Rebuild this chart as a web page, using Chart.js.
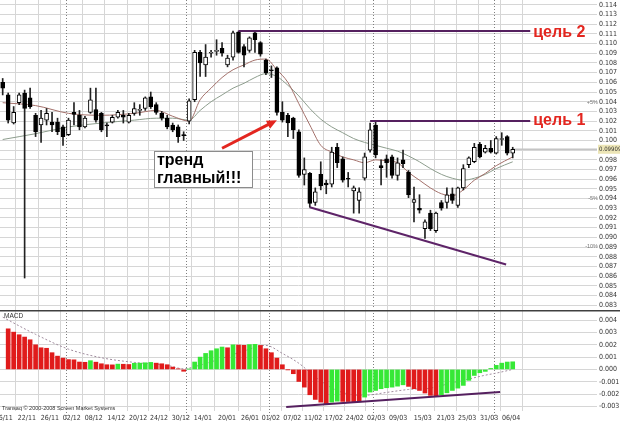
<!DOCTYPE html>
<html>
<head>
<meta charset="utf-8">
<script src="https://cdn.jsdelivr.net/npm/chart.js@4.4.1/dist/chart.umd.min.js"></script>
<style>
  html, body { margin: 0; padding: 0; background: #fff; }
  #wrap { position: relative; width: 620px; height: 421px; overflow: hidden; }
  canvas { position: absolute; left: 0; }
</style>
</head>
<body>
<div id="wrap">
  <canvas id="price" width="620" height="310" style="top:0"></canvas>
  <canvas id="macd" width="620" height="111" style="top:310px"></canvas>
</div>
<script>
// daily candles, 16/11 .. 06/04
const open = [0.1060, 0.1047, 0.1018, 0.1039, 0.1049, 0.1044, 0.1026, 0.1016, 0.1021, 0.1019,
  0.1019, 0.1014, 0.1006, 0.1029, 0.1026, 0.1014, 0.1029, 0.1032, 0.1028, 0.1016,
  0.1019, 0.1024, 0.1026, 0.1019, 0.1028, 0.1031, 0.1033, 0.1045, 0.1037, 0.1028,
  0.1023, 0.1016, 0.1014, 0.1006, 0.1020, 0.1042, 0.1091, 0.1078, 0.1090, 0.1092,
  0.1095, 0.1078, 0.1086, 0.1112, 0.1097, 0.1093, 0.1111, 0.1101, 0.1083, 0.1073,
  0.1075, 0.1029, 0.1026, 0.1023, 0.1009, 0.0965, 0.0966, 0.0936, 0.0965, 0.0956,
  0.0955, 0.0993, 0.0981, 0.0961, 0.0948, 0.0938, 0.0961, 0.0990, 0.1016, 0.0974,
  0.0981, 0.0983, 0.0964, 0.0980, 0.0967, 0.0936, 0.0930, 0.0909, 0.0925, 0.0907,
  0.0936, 0.0936, 0.0945, 0.0933, 0.0951, 0.0975, 0.0978, 0.0996, 0.0988, 0.0992,
  0.0987, 0.1001, 0.1004, 0.0987];
const high = [0.1064, 0.1049, 0.1035, 0.1049, 0.1052, 0.1054, 0.1028, 0.1031, 0.1033, 0.1029,
  0.1023, 0.1016, 0.1023, 0.1039, 0.1031, 0.1025, 0.1054, 0.1054, 0.1029, 0.1018,
  0.1026, 0.1031, 0.1031, 0.1028, 0.1039, 0.1037, 0.1045, 0.1050, 0.1039, 0.1030,
  0.1026, 0.1018, 0.1016, 0.1009, 0.1043, 0.1093, 0.1093, 0.1099, 0.1093, 0.1104,
  0.1101, 0.1088, 0.1113, 0.1113, 0.1099, 0.1107, 0.1112, 0.1102, 0.1084, 0.1077,
  0.1076, 0.1040, 0.1028, 0.1024, 0.1011, 0.0982, 0.0967, 0.0951, 0.0978, 0.0959,
  0.0993, 0.0997, 0.0983, 0.0967, 0.0953, 0.0951, 0.0987, 0.1018, 0.1020, 0.0980,
  0.0985, 0.0985, 0.0982, 0.0990, 0.0969, 0.0952, 0.0944, 0.0918, 0.0928, 0.0926,
  0.0938, 0.0951, 0.0951, 0.0952, 0.0975, 0.0983, 0.0997, 0.0998, 0.0995, 0.1000,
  0.1004, 0.1008, 0.1005, 0.0993];
const low = [0.1047, 0.1018, 0.1017, 0.1037, 0.0858, 0.1033, 0.1004, 0.0998, 0.1016, 0.1009,
  0.1006, 0.0995, 0.1005, 0.1016, 0.1011, 0.1013, 0.1028, 0.1019, 0.1009, 0.1004,
  0.1018, 0.1023, 0.1018, 0.1018, 0.1026, 0.1026, 0.1031, 0.1033, 0.1027, 0.1021,
  0.1012, 0.1009, 0.0998, 0.1000, 0.1017, 0.1040, 0.1066, 0.1066, 0.1086, 0.1088,
  0.1087, 0.1076, 0.1083, 0.1090, 0.1076, 0.1091, 0.1091, 0.1087, 0.1068, 0.1065,
  0.1026, 0.1019, 0.1004, 0.1002, 0.0962, 0.0954, 0.0931, 0.0933, 0.0949, 0.0945,
  0.0952, 0.0972, 0.0957, 0.0952, 0.0925, 0.0925, 0.0959, 0.0988, 0.0982, 0.0954,
  0.0962, 0.0961, 0.0959, 0.0972, 0.0941, 0.0916, 0.0925, 0.0899, 0.0907, 0.0905,
  0.0928, 0.0930, 0.0935, 0.0931, 0.0949, 0.0972, 0.0977, 0.0982, 0.0987, 0.0987,
  0.0986, 0.0995, 0.0985, 0.0982];
const close = [0.1054, 0.1021, 0.1029, 0.1047, 0.1033, 0.1035, 0.1009, 0.1023, 0.1028, 0.1016,
  0.1009, 0.1004, 0.1021, 0.1027, 0.1014, 0.1023, 0.1042, 0.1021, 0.1011, 0.1015,
  0.1024, 0.1029, 0.1024, 0.1026, 0.1033, 0.1032, 0.1044, 0.1035, 0.1029, 0.1023,
  0.1014, 0.1011, 0.1004, 0.1005, 0.1041, 0.1091, 0.1080, 0.1086, 0.1091, 0.1093,
  0.1090, 0.1085, 0.1111, 0.1091, 0.1088, 0.1106, 0.1104, 0.1089, 0.1070, 0.1072,
  0.1029, 0.1021, 0.1018, 0.1011, 0.0964, 0.0970, 0.0935, 0.0947, 0.0953, 0.0954,
  0.0988, 0.0977, 0.0959, 0.0960, 0.0951, 0.0947, 0.0983, 0.1011, 0.0985, 0.0972,
  0.0977, 0.0964, 0.0977, 0.0976, 0.0944, 0.0939, 0.0928, 0.0916, 0.0909, 0.0925,
  0.0930, 0.0944, 0.0938, 0.0951, 0.0971, 0.0982, 0.0993, 0.0983, 0.0992, 0.0988,
  0.1002, 0.1002, 0.0987, 0.09909];

// moving averages, read at these candle numbers
const maIdx = [0, 6, 12, 18, 24, 28, 31, 34, 36, 38, 40, 42, 44, 46, 48, 50, 52, 54, 56, 58,
  60, 62, 64, 66, 68, 70, 72, 74, 76, 78, 80, 82, 84, 86, 88, 90, 93];
const maFast = [0.1039, 0.1036, 0.1028, 0.1026, 0.1028, 0.1031, 0.1025, 0.1020, 0.1042, 0.1054,
  0.1065, 0.1073, 0.1078, 0.1083, 0.1084, 0.1073, 0.1060, 0.1038, 0.1016, 0.0995,
  0.0988, 0.0983, 0.0980, 0.0977, 0.0980, 0.0979, 0.0977, 0.0967, 0.0959, 0.0951,
  0.0945, 0.0943, 0.0949, 0.0959, 0.0966, 0.0974, 0.0983];
const maSlow = [0.1001, 0.1007, 0.1014, 0.1018, 0.1021, 0.1023, 0.1023, 0.1021, 0.1031, 0.1040,
  0.1047, 0.1054, 0.1059, 0.1065, 0.1069, 0.1066, 0.1057, 0.1046, 0.1033, 0.1022,
  0.1014, 0.1008, 0.1002, 0.0998, 0.0995, 0.0992, 0.0989, 0.0984, 0.0978, 0.0971,
  0.0965, 0.0961, 0.0959, 0.0961, 0.0965, 0.0971, 0.0978];

// MACD histogram per candle and its signal line
const macdHist = [null, 0.00330, 0.00303, 0.00282, 0.00263, 0.00241, 0.00200, 0.00176, 0.00172, 0.00136,
  0.00108, 0.00092, 0.00080, 0.00078, 0.00060, 0.00058, 0.00071, 0.00059, 0.00046, 0.00038,
  0.00037, 0.00043, 0.00042, 0.00040, 0.00050, 0.00051, 0.00054, 0.00057, 0.00051, 0.00046,
  0.00038, 0.00019, 0.00005, -0.00015, 0.00002, 0.00060, 0.00100, 0.00130, 0.00152, 0.00168,
  0.00182, 0.00176, 0.00200, 0.00198, 0.00196, 0.00202, 0.00204, 0.00195, 0.00168, 0.00136,
  0.00092, 0.00038, -0.00002, -0.00035, -0.00098, -0.00144, -0.00206, -0.00244, -0.00266, -0.00280,
  -0.00266, -0.00258, -0.00260, -0.00261, -0.00262, -0.00263, -0.00225, -0.00184, -0.00171, -0.00157,
  -0.00149, -0.00144, -0.00136, -0.00125, -0.00138, -0.00157, -0.00171, -0.00192, -0.00211, -0.00220,
  -0.00206, -0.00190, -0.00171, -0.00152, -0.00130, -0.00089, -0.00049, -0.00027, -0.00016, 0.00008,
  0.00033, 0.00051, 0.00060, 0.00062];
const sigIdx = [0, 6, 12, 18, 24, 30, 33, 36, 40, 44, 48, 51, 54, 57, 60, 63, 66, 70, 74, 78, 82, 85, 88, 90, 93];
const sigVal = [0.00425, 0.00285, 0.00165, 0.00095, 0.00057, 0.00033, 0.00005, 0.00035, 0.00090, 0.00150,
  0.00195, 0.00130, 0.00050, -0.00060, -0.00150, -0.00200, -0.00210, -0.00187, -0.00163, -0.00152,
  -0.00108, -0.00078, -0.00047, -0.00030, 0.00000];

// date ticks (positions in candle numbers) and price ticks
const xTicks = [0.2, 4.4, 8.6, 12.6, 16.6, 20.7, 24.7, 28.5, 32.5, 36.5, 40.9, 45.1, 48.9, 52.8,
  56.6, 60.4, 64.2, 68.1, 72.1, 76.6, 80.8, 84.7, 88.7, 92.7];
const xLabels = ['16/11', '22/11', '26/11', '02/12', '08/12', '14/12', '20/12', '24/12', '30/12', '14/01',
  '20/01', '26/01', '01/02', '07/02', '11/02', '17/02', '24/02', '02/03', '09/03', '15/03',
  '21/03', '25/03', '31/03', '06/04'];
const monthBreaks = [11.5, 33.5, 48.5, 67.5, 89.5];
const priceTicks = [0.114, 0.113, 0.112, 0.111, 0.110, 0.109, 0.108, 0.107, 0.106, 0.105, 0.104,
  0.103, 0.102, 0.101, 0.100, 0.099, 0.098, 0.097, 0.096, 0.095, 0.094, 0.093, 0.092, 0.091,
  0.090, 0.089, 0.088, 0.087, 0.086, 0.085, 0.084, 0.083];
const macdTicks = [0.004, 0.003, 0.002, 0.001, 0, -0.001, -0.002, -0.003];

// drawn levels and notes
const lastPrice = 0.09909;
const goal2 = 0.1113, goal2From = 43;
const goal1 = 0.1020, goal1From = 67;
const goalTo = 96.2;
const priceTrend = [[56, 0.0931], [91.8, 0.0872]];
const macdTrend = [[51.7, -0.00306], [90.7, -0.00184]];
const arrowPts = [[40, 0.0992], [50, 0.1021]];
const notePos = [27.6, 0.0989];

const FONT = "'Liberation Sans', Arial, sans-serif";
const NARROW = "'Liberation Sans Narrow', 'DejaVu Sans Condensed', 'Liberation Sans', Arial, sans-serif";
Chart.defaults.font.family = FONT;
Chart.defaults.color = '#333';
const GRID = '#d6d6d6';
const RED = '#e3261f';
const PURPLE = '#55205f';

const idx = open.map((_, i) => i);
const pts = (xs, ys) => xs.map((x, i) => ({ x, y: ys[i] }));
const seg = (p) => p.map(([x, y]) => ({ x, y }));

function xAxis(showLabels) {
  return {
    type: 'linear', min: -0.49, max: 108.37, offset: false,
    grid: { color: GRID, drawTicks: false },
    border: { display: false },
    ticks: {
      display: showLabels, autoSkip: false, maxRotation: 0, padding: 3,
      font: { size: 7, family: NARROW }, color: '#333',
      callback: (v, i) => xLabels[i]
    },
    afterBuildTicks: s => { s.ticks = xTicks.map(v => ({ value: v })); },
    afterFit: s => { s.height = showLabels ? 10 : 0; s.paddingLeft = 0; s.paddingRight = 0; }
  };
}

function yAxis(min, max, ticks, digits) {
  return {
    position: 'right', min, max,
    grid: { color: GRID, drawTicks: false },
    border: { display: false },
    ticks: {
      autoSkip: false, padding: 2, font: { size: 7, family: NARROW }, color: '#333',
      callback: v => v.toFixed(digits)
    },
    afterBuildTicks: s => { s.ticks = ticks.map(v => ({ value: v })); },
    afterFit: s => { s.width = 23; s.paddingTop = 0; s.paddingBottom = 0; }
  };
}

// dotted month separators
const monthLines = {
  id: 'monthLines',
  beforeDatasetsDraw(chart) {
    const { ctx, scales: { x } } = chart;
    ctx.save();
    ctx.strokeStyle = '#808080';
    ctx.lineWidth = 1;
    ctx.setLineDash([1, 2]);
    monthBreaks.forEach(b => {
      const px = Math.round(x.getPixelForValue(b)) + 0.5;
      ctx.beginPath();
      ctx.moveTo(px, 0);
      ctx.lineTo(px, chart.height - 2);
      ctx.stroke();
    });
    ctx.restore();
  }
};

const priceNotes = {
  id: 'priceNotes',
  afterDatasetsDraw(chart) {
    const { ctx, scales: { x, y } } = chart;
    ctx.save();
    // targets
    ctx.fillStyle = RED;
    ctx.font = 'bold 16px ' + FONT;
    ctx.textBaseline = 'alphabetic';
    ctx.fillText('цель 2', x.getPixelForValue(goalTo) + 3, y.getPixelForValue(goal2) + 6);
    ctx.fillText('цель 1', x.getPixelForValue(goalTo) + 3, y.getPixelForValue(goal1) + 4);

    // arrow
    const [p0, p1] = arrowPts.map(([i, v]) => [x.getPixelForValue(i), y.getPixelForValue(v)]);
    const ang = Math.atan2(p1[1] - p0[1], p1[0] - p0[0]);
    const head = 11;
    ctx.strokeStyle = RED;
    ctx.lineWidth = 3;
    ctx.beginPath();
    ctx.moveTo(p0[0], p0[1]);
    ctx.lineTo(p1[0] - head * 0.7 * Math.cos(ang), p1[1] - head * 0.7 * Math.sin(ang));
    ctx.stroke();
    ctx.beginPath();
    ctx.moveTo(p1[0], p1[1]);
    ctx.lineTo(p1[0] - head * Math.cos(ang - 0.42), p1[1] - head * Math.sin(ang - 0.42));
    ctx.lineTo(p1[0] - head * Math.cos(ang + 0.42), p1[1] - head * Math.sin(ang + 0.42));
    ctx.closePath();
    ctx.fill();

    // note box
    const bx = Math.round(x.getPixelForValue(notePos[0])), by = Math.round(y.getPixelForValue(notePos[1]));
    ctx.fillStyle = '#fff';
    ctx.fillRect(bx, by, 98, 36);
    ctx.strokeStyle = '#8c8c8c';
    ctx.lineWidth = 1;
    ctx.strokeRect(bx + 0.5, by + 0.5, 98, 36);
    ctx.fillStyle = '#000';
    ctx.fillText('тренд', bx + 3, by + 14);
    ctx.fillText('главный!!!', bx + 3, by + 32);
    ctx.restore();
  },
  afterDraw(chart) {
    const { ctx, chartArea: a, scales: { y } } = chart;
    ctx.save();
    // last price tag
    const ly = y.getPixelForValue(lastPrice);
    ctx.fillStyle = '#ece5b6';
    ctx.fillRect(a.right + 1, ly - 4.5, 23, 9);
    ctx.fillStyle = '#333';
    ctx.font = '6px ' + NARROW;
    ctx.textBaseline = 'middle';
    ctx.textAlign = 'left';
    ctx.fillText(lastPrice.toFixed(5), a.right + 2, ly);
    // distance marks from the last price
    ctx.fillStyle = '#777';
    ctx.font = '5.5px ' + FONT;
    ctx.textAlign = 'right';
    [[1.05, '+5%'], [0.95, '-5%'], [0.90, '-10%']].forEach(([k, t]) => {
      ctx.fillText(t, a.right + 1, y.getPixelForValue(lastPrice * k) + 1);
    });
    ctx.restore();
  }
};

new Chart(document.getElementById('price'), {
  data: {
    datasets: [
      {
        type: 'line', order: 1, data: seg([[goal2From, goal2], [goalTo, goal2]]),
        borderColor: PURPLE, borderWidth: 2, pointRadius: 0
      },
      {
        type: 'line', order: 1, data: seg([[goal1From, goal1], [goalTo, goal1]]),
        borderColor: PURPLE, borderWidth: 2, pointRadius: 0
      },
      {
        type: 'line', order: 1, data: seg(priceTrend),
        borderColor: '#5e2468', borderWidth: 2, pointRadius: 0
      },
      {
        type: 'bar', order: 2, grouped: false, barThickness: 4, minBarLength: 1,
        data: idx.map(i => ({ x: i, y: [open[i], close[i]] })),
        backgroundColor: idx.map(i => close[i] >= open[i] ? '#fff' : '#000'),
        borderColor: '#000', borderWidth: 1, borderSkipped: false
      },
      {
        type: 'bar', order: 3, grouped: false, barThickness: 1,
        data: idx.map(i => ({ x: i, y: [low[i], high[i]] })),
        backgroundColor: '#222'
      },
      {
        type: 'line', order: 4, data: pts(maIdx, maFast),
        borderColor: '#a3706a', borderWidth: 1, pointRadius: 0, cubicInterpolationMode: 'monotone'
      },
      {
        type: 'line', order: 5, data: pts(maIdx, maSlow),
        borderColor: '#8d9d8d', borderWidth: 1, pointRadius: 0, cubicInterpolationMode: 'monotone'
      },
      {
        type: 'line', order: 6, data: seg([[open.length - 1, lastPrice], [108.37, lastPrice]]),
        borderColor: '#c4c4c4', borderWidth: 1.5, pointRadius: 0
      }
    ]
  },
  options: {
    responsive: false, animation: false, devicePixelRatio: 1,
    layout: { padding: 0 },
    plugins: { legend: { display: false }, tooltip: { enabled: false } },
    scales: {
      x: xAxis(false),
      y: yAxis(0.0825, 0.1145, priceTicks, 3)
    }
  },
  plugins: [monthLines, priceNotes]
});

const macdNotes = {
  id: 'macdNotes',
  afterDraw(chart) {
    const { ctx } = chart;
    ctx.save();
    ctx.strokeStyle = '#404040';
    ctx.lineWidth = 1.5;
    ctx.beginPath();
    ctx.moveTo(0, 0.75);
    ctx.lineTo(chart.width, 0.75);
    ctx.stroke();
    ctx.fillStyle = '#333';
    ctx.textBaseline = 'middle';
    ctx.font = '6.5px ' + FONT;
    ctx.fillText('MACD', 4, 6);
    ctx.font = '5.5px ' + FONT;
    ctx.fillText('Transaq © 2000-2008 Screen Market Systems', 2, 98);
    ctx.restore();
  }
};

const histPts = idx.filter(i => macdHist[i] !== null);
let prev = null;
const histColors = histPts.map(i => {
  const up = prev !== null && macdHist[i] > prev;
  prev = macdHist[i];
  return up ? '#36e836' : '#e01b1b';
});

new Chart(document.getElementById('macd'), {
  data: {
    datasets: [
      {
        type: 'line', order: 0, data: seg(macdTrend),
        borderColor: '#55205f', borderWidth: 2, pointRadius: 0
      },
      {
        type: 'bar', order: 1, grouped: false, barThickness: 4,
        data: histPts.map(i => ({ x: i, y: macdHist[i] })),
        backgroundColor: histColors
      },
      {
        type: 'line', order: 2, data: pts(sigIdx, sigVal),
        borderColor: '#a08c9e', borderWidth: 1, borderDash: [2, 2], pointRadius: 0,
        cubicInterpolationMode: 'monotone'
      }
    ]
  },
  options: {
    responsive: false, animation: false, devicePixelRatio: 1,
    layout: { padding: 0 },
    plugins: { legend: { display: false }, tooltip: { enabled: false } },
    scales: {
      x: xAxis(true),
      y: yAxis(-0.00338, 0.00483, macdTicks, 3)
    }
  },
  plugins: [monthLines, macdNotes]
});
</script>
</body>
</html>
